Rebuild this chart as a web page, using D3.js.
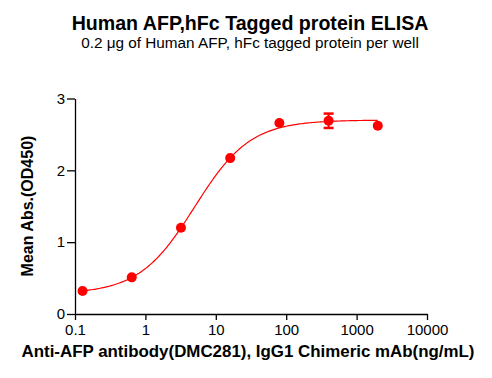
<!DOCTYPE html>
<html><head><meta charset="utf-8">
<script src="https://cdn.jsdelivr.net/npm/d3@7"></script>
<style>body{margin:0;background:#fff}svg{display:block;font-family:"Liberation Sans",Arial,sans-serif}</style>
</head><body>
<svg id="c" width="492" height="378"></svg>
<script>
const conc = [0.128, 0.64, 3.2, 16, 80, 400, 2000];
const od = [0.32, 0.51, 1.20, 2.17, 2.66, 2.69, 2.62];
const err = [0, 0, 0, 0, 0, 0.10, 0];
const xTicks = [0.1, 1, 10, 100, 1000, 10000];
const yTicks = [0, 1, 2, 3];
// 4PL fit parameters
const fitBottom = 0.28, fitTop = 2.70, fitEC50 = 5.0, fitHill = 1.1;

const svg = d3.select("#c");
const x = d3.scaleLog().domain([0.1, 10000]).range([75, 427]);
const y = d3.scaleLinear().domain([0, 3]).range([314, 98.5]);
const red = "#ff0000";
const ff = "Liberation Sans, Arial, sans-serif";

svg.append("text").attr("x", 250).attr("y", 30).attr("text-anchor", "middle")
  .attr("font-weight", "bold").attr("font-size", 19.6).text("Human AFP,hFc Tagged protein ELISA");
svg.append("text").attr("x", 250).attr("y", 48).attr("text-anchor", "middle")
  .attr("font-size", 15.3).text("0.2 \u03bcg of Human AFP, hFc tagged protein per well");

const gx = svg.append("g").attr("transform", "translate(0,314)")
  .call(d3.axisBottom(x).tickValues(xTicks).tickFormat(d3.format("")).tickSize(6).tickPadding(4).tickSizeOuter(0));
gx.selectAll("text").attr("font-size", 15).attr("fill","#000").style("font-family", ff);
const gy = svg.append("g").attr("transform", "translate(75,0)")
  .call(d3.axisLeft(y).tickValues(yTicks).tickFormat(d3.format("d")).tickSize(8).tickPadding(2).tickSizeOuter(0));
gy.selectAll("text").attr("font-size", 15).attr("fill","#000").style("font-family", ff);
svg.selectAll(".domain, .tick line").attr("stroke", "#000").attr("stroke-width", 1.3);

svg.append("text").attr("transform", "translate(33,206) rotate(-90)").attr("text-anchor", "middle")
  .attr("font-weight", "bold").attr("font-size", 16).text("Mean Abs.(OD450)");
svg.append("text").attr("x", 248).attr("y", 357).attr("text-anchor", "middle")
  .attr("font-weight", "bold").attr("font-size", 16.9).text("Anti-AFP antibody(DMC281), IgG1 Chimeric mAb(ng/mL)");

const f = c => fitBottom + (fitTop - fitBottom) / (1 + Math.pow(fitEC50 / c, fitHill));
const lx = d3.range(0, 201).map(i => Math.pow(10, Math.log10(conc[0]) + i / 200 * (Math.log10(conc[6]) - Math.log10(conc[0]))));
svg.append("path").attr("d", d3.line().x(c => x(c)).y(c => y(f(c)))(lx))
  .attr("fill", "none").attr("stroke", red).attr("stroke-width", 1.2);

const pts = conc.map((c, i) => ({c, v: od[i], e: err[i]}));
const eb = svg.append("g").attr("stroke", red).attr("stroke-width", 2);
pts.filter(p => p.e > 0).forEach(p => {
  eb.append("line").attr("x1", x(p.c)).attr("x2", x(p.c)).attr("y1", y(p.v - p.e)).attr("y2", y(p.v + p.e));
  [p.v - p.e, p.v + p.e].forEach(v => eb.append("line").attr("x1", x(p.c) - 5).attr("x2", x(p.c) + 5).attr("y1", y(v)).attr("y2", y(v)).attr("stroke-width", 2.5));
});
svg.selectAll("circle.pt").data(pts).join("circle").attr("class", "pt")
  .attr("cx", d => x(d.c)).attr("cy", d => y(d.v)).attr("r", 5).attr("fill", red);
</script>
</body></html>
